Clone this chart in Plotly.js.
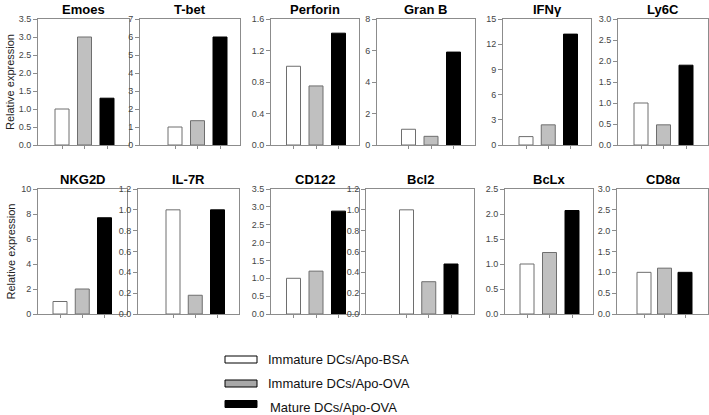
<!DOCTYPE html>
<html>
<head>
<meta charset="utf-8">
<script src="https://cdn.plot.ly/plotly-3.0.1.min.js"></script>
<style>html,body{margin:0;padding:0;background:#fff;}#chart{width:709px;height:415px;}</style>
</head>
<body>
<div id="chart"></div>
<script>
// ---- data ----
var genes = ["Emoes", "T-bet", "Perforin", "Gran B", "IFNγ", "Ly6C",
             "NKG2D", "IL-7R", "CD122", "Bcl2", "BcLx", "CD8α"];
var groups = ["Immature DCs/Apo-BSA", "Immature DCs/Apo-OVA", "Mature DCs/Apo-OVA"];
var immatureBSA = [1.0, 1.0, 1.0, 1.0, 1.0, 1.0, 1.0, 1.0, 1.0, 1.0, 1.0, 1.0];
var immatureOVA = [3.0, 1.35, 0.75, 0.55, 2.4, 0.48, 2.0, 0.18, 1.2, 0.31, 1.23, 1.1];
var matureOVA   = [1.3, 6.0, 1.42, 5.9, 13.2, 1.9, 7.7, 1.0, 2.88, 0.48, 2.07, 1.0];
var yMax   = [3.5, 7, 1.6, 8, 15, 3.0, 10, 1.2, 3.5, 1.2, 2.5, 3.0];
var yDtick = [0.5, 1, 0.4, 2, 3, 0.5, 2, 0.2, 0.5, 0.2, 0.5, 0.5];
var yFormat = [".1f", "d", ".1f", "d", "d", ".1f", "d", ".1f", ".1f", ".1f", ".1f", ".1f"];
var yTitle = "Relative expression";

(function () {
// ---- layout geometry (pixels): left, right, centre of first bar, centre of last bar ----
var W = 709, H = 415;
var geom = [
  [38,129,62,107],[140,240,175,220],[271,359,293.5,338.5],[377,475,408.5,453.5],[503,591,526,570.5],[618,708,641,686],
  [38,127,60,104.5],[138,239,173,217.5],[271,359,293.5,338.5],[366,474,406.5,451],[505,593,527,572],[617,708,644,685]
];
var rowsY = [[19,145],[189,314]];
var fills = ["#ffffff", "#c0c0c0", "#000000"];
var lines = ["#6e6e6e", "#6e6e6e", "#000000"];
var FONT = "Liberation Sans, Arial, sans-serif";
var axisCol = "#8c8c8c";

var traces = [];
var layout = {
  width: W, height: H,
  margin: {l:0, r:0, t:0, b:0},
  paper_bgcolor: "#ffffff", plot_bgcolor: "#ffffff",
  showlegend: false,
  font: {family: FONT, color: "#444"},
  annotations: [], shapes: [],
  bargap: 0
};

for (var i = 0; i < genes.length; i++) {
  var g = geom[i];
  var row = i < 6 ? 0 : 1;
  var s = (g[3] - g[2]) / 2;
  var xr = [(g[0] - g[2]) / s, (g[1] - g[2]) / s];
  var suf = i === 0 ? "" : String(i + 1);
  traces.push({
    type: "bar",
    x: groups,
    y: [immatureBSA[i], immatureOVA[i], matureOVA[i]],
    width: 14 / s,
    marker: {color: fills, line: {color: lines, width: 1}},
    xaxis: "x" + suf, yaxis: "y" + suf,
    hoverinfo: "x+y"
  });
  var yTop = rowsY[row][0], yBot = rowsY[row][1];
  layout["xaxis" + suf] = {
    domain: [g[0] / W, g[1] / W],
    anchor: "y" + suf,
    type: "category",
    range: xr,
    showline: true, mirror: true, linecolor: axisCol, linewidth: 1,
    ticks: "outside", ticklen: 3, tickcolor: axisCol, tickwidth: 1,
    showticklabels: false, showgrid: false, zeroline: false,
    fixedrange: true
  };
  layout["yaxis" + suf] = {
    domain: [1 - yBot / H, 1 - yTop / H],
    anchor: "x" + suf,
    range: [0, yMax[i]],
    dtick: yDtick[i], tick0: 0,
    tickformat: yFormat[i],
    showline: true, mirror: true, linecolor: axisCol, linewidth: 1,
    ticks: "outside", ticklen: 4, tickcolor: axisCol, tickwidth: 1,
    tickfont: {family: FONT, size: 9, color: "#444"},
    showgrid: false, zeroline: false,
    fixedrange: true
  };
  layout.annotations.push({
    text: "<b>" + genes[i] + "</b>",
    xref: "paper", yref: "paper",
    x: ((g[0] + g[1]) / 2) / W, y: 1 - (yTop - 10) / H,
    xanchor: "center", yanchor: "middle",
    showarrow: false, borderpad: 0,
    font: {family: FONT, size: 13, color: "#000"}
  });
}

// row y titles
for (var r = 0; r < 2; r++) {
  layout.annotations.push({
    text: yTitle, textangle: -90,
    xref: "paper", yref: "paper",
    x: 10 / W, y: 1 - ((rowsY[r][0] + rowsY[r][1]) / 2) / H,
    xanchor: "center", yanchor: "middle", showarrow: false,
    font: {family: FONT, size: 11, color: "#222"}
  });
}

// legend (drawn)
var legY = [359.5, 383.5, 404];
for (var k = 0; k < groups.length; k++) {
  layout.shapes.push({
    type: "rect", xref: "paper", yref: "paper",
    x0: 225 / W, x1: 257 / W,
    y0: 1 - (legY[k] + 3.5) / H, y1: 1 - (legY[k] - 3.5) / H,
    fillcolor: k === 0 ? "#ffffff" : (k === 1 ? "#a8a8a8" : "#000000"),
    line: {color: "#000", width: 1}
  });
  layout.annotations.push({
    text: groups[k],
    xref: "paper", yref: "paper",
    x: (k === 2 ? 268 : 266) / W, y: 1 - (legY[k] + (k === 2 ? 3 : 0)) / H,
    xanchor: "left", yanchor: "middle", showarrow: false,
    font: {family: FONT, size: 13, color: "#111"}
  });
}

Plotly.newPlot("chart", traces, layout, {displayModeBar: false, staticPlot: true});
})();
</script>
</body>
</html>
